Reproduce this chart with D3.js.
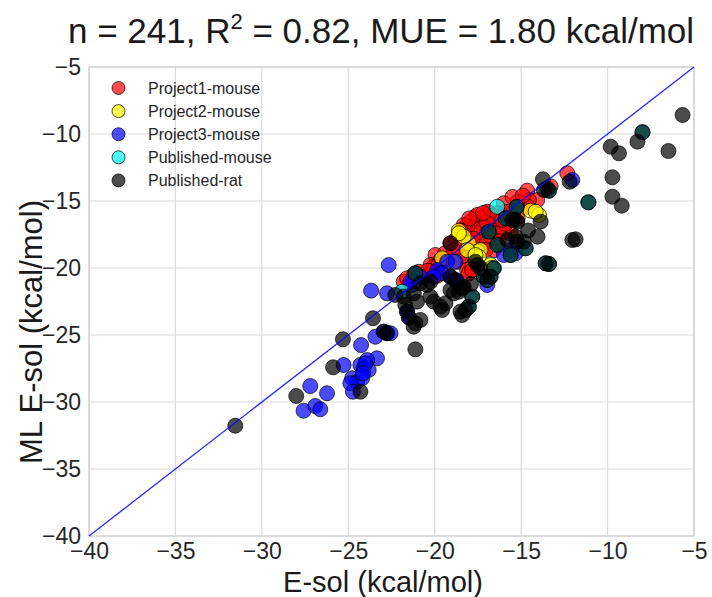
<!DOCTYPE html>
<html><head><meta charset="utf-8">
<script src="https://cdn.jsdelivr.net/npm/d3@7"></script>
<style>
html,body{margin:0;padding:0;background:#fff;}
svg{display:block;font-family:"Liberation Sans",Arial,sans-serif;}
</style></head>
<body>
<svg id="chart" width="712" height="597"></svg>
<script>
// ---- data (kcal/mol): [E-sol, ML E-sol] ----
const project1Mouse = [[-12.33,-12.93],[-14.65,-14.23],[-14.07,-14.93],[-14.55,-14.93],[-14.61,-15.43],[-15.22,-15.05],[-16.0,-15.17],[-15.61,-16.04],[-15.9,-15.8],[-16.87,-15.87],[-17.25,-16.29],[-17.35,-16.66],[-16.77,-16.42],[-16.58,-16.66],[-17.64,-16.17],[-17.93,-16.54],[-18.22,-16.96],[-16.48,-16.96],[-16.19,-17.22],[-17.16,-17.04],[-16.0,-17.29],[-15.61,-17.41],[-17.54,-17.41],[-17.35,-17.91],[-16.96,-18.04],[-16.58,-18.66],[-17.06,-18.66],[-18.8,-17.91],[-18.22,-17.66],[-19.96,-19.03],[-16.29,-17.41],[-19.67,-19.4],[-19.28,-19.28],[-20.25,-19.78],[-20.06,-19.9],[-18.61,-19.53],[-18.41,-19.16],[-17.74,-19.16],[-18.12,-20.15],[-18.03,-20.4],[-17.83,-20.15],[-20.92,-20.28],[-20.64,-20.65],[-21.22,-20.52],[-21.79,-21.02],[-21.6,-20.77],[-16.38,-15.92],[-16.96,-15.8],[-17.54,-16.04],[-17.74,-17.04],[-18.12,-16.92],[-18.32,-16.79],[-19.77,-19.78],[-19.57,-19.53],[-19.09,-18.16],[-13.3,-13.9],[-15.5,-14.7],[-14.9,-14.6],[-16.6,-16.1],[-17.0,-16.6],[-15.9,-16.7],[-18.6,-18.4],[-19.4,-18.9],[-17.9,-18.2],[-16.3,-18.0],[-18.9,-18.7],[-17.8,-17.8],[-19.9,-20.6],[-16.8,-17.6],[-15.2,-16.3],[-18.5,-17.2],[-20.4,-20.2],[-17.2,-15.9],[-18.0,-16.3],[-16.1,-16.4]];
const project2Mouse = [[-14.45,-15.72],[-13.97,-16.04],[-14.16,-15.8],[-18.61,-17.22],[-18.03,-18.16],[-18.32,-17.66],[-17.54,-18.78],[-17.35,-18.66],[-17.45,-19.16],[-18.12,-18.66],[-17.64,-19.03],[-19.57,-19.28],[-18.9,-19.53],[-16.77,-19.78],[-18.6,-17.41],[-16.7,-20.0]];
const project3Mouse = [[-12.04,-13.43],[-15.61,-18.66],[-15.32,-18.9],[-16.0,-19.03],[-19.28,-19.53],[-18.8,-19.53],[-19.86,-20.15],[-19.57,-20.4],[-20.06,-20.65],[-19.09,-20.65],[-18.8,-20.9],[-16.96,-21.27],[-20.83,-20.65],[-21.31,-21.27],[-21.41,-21.02],[-22.66,-19.78],[-22.76,-21.89],[-23.68,-21.69],[-21.6,-23.26],[-21.5,-23.68],[-22.95,-24.75],[-22.76,-24.87],[-22.56,-24.87],[-23.43,-25.13],[-24.26,-25.75],[-23.34,-26.74],[-23.91,-26.87],[-24.3,-27.24],[-24.11,-27.49],[-23.82,-27.61],[-25.27,-27.24],[-24.78,-28.23],[-24.49,-28.49],[-24.2,-28.23],[-24.88,-28.6],[-24.73,-29.23],[-27.2,-28.81],[-26.23,-29.35],[-27.59,-30.65],[-26.91,-30.3],[-26.62,-30.54],[-24.01,-27.11],[-24.15,-27.86],[-18.7,-21.0]];
const publishedMouse = [[-16.38,-15.43],[-21.89,-21.77],[-7.98,-9.87],[-11.11,-15.1],[-13.39,-14.23],[-15.26,-15.43],[-15.9,-16.29],[-16.87,-17.29],[-16.38,-18.28],[-14.74,-18.53],[-15.61,-19.03],[-13.58,-19.65],[-13.39,-19.7],[-16.58,-20.02],[-21.12,-20.4],[-17.16,-20.65],[-16.96,-20.9],[-16.77,-20.65],[-17.83,-22.14],[-18.03,-22.89]];
const publishedRat = [[-7.98,-9.87],[-11.11,-15.1],[-13.39,-14.23],[-15.26,-15.43],[-15.9,-16.29],[-16.87,-17.29],[-16.38,-18.28],[-14.74,-18.53],[-15.61,-19.03],[-13.58,-19.65],[-13.39,-19.7],[-16.58,-20.02],[-21.12,-20.4],[-17.16,-20.65],[-16.96,-20.9],[-16.77,-20.65],[-17.83,-22.14],[-18.03,-22.89],
[-5.66,-8.58],[-8.27,-10.57],[-9.82,-10.95],[-9.34,-11.44],[-6.48,-11.27],[-9.72,-13.23],[-9.72,-14.68],[-9.18,-15.35],[-12.19,-13.56],[-13.74,-13.38],[-13.68,-14.18],[-13.87,-16.54],[-14.05,-17.66],[-12.04,-17.91],[-11.85,-17.86],[-14.84,-18.04],[-15.32,-16.42],[-15.22,-16.54],[-15.51,-16.42],[-15.32,-17.66],[-15.22,-18.04],[-19.09,-18.16],[-17.64,-19.53],[-17.54,-19.78],[-17.35,-20.02],[-19.09,-20.65],[-18.8,-20.9],[-20.25,-21.02],[-20.44,-21.27],[-20.83,-21.14],[-18.32,-21.4],[-22.28,-22.01],[-21.79,-22.14],[-21.21,-21.89],[-21.02,-22.51],[-21.7,-22.76],[-20.25,-22.14],[-20.06,-22.51],[-19.67,-22.89],[-19.38,-22.63],[-19.57,-23.13],[-19.09,-21.64],[-18.61,-21.77],[-18.9,-21.89],[-18.41,-21.51],[-18.51,-23.26],[-18.41,-23.51],[-18.22,-23.13],[-21.6,-23.26],[-21.5,-23.68],[-21.12,-24.13],[-20.83,-23.88],[-21.22,-24.38],[-21.12,-26.07],[-22.95,-24.75],[-22.76,-24.87],[-23.57,-23.75],[-25.31,-25.32],[-25.88,-27.41],[-24.3,-29.23],[-28.01,-29.55],[-31.54,-31.77],[-13.49,-14.05],[-17.9,-21.2],[-15.8,-17.9],[-14.6,-17.2]];
const seriesNames = ["Project1-mouse","Project2-mouse","Project3-mouse","Published-mouse","Published-rat"];
const seriesColors = ["#ff0000","#ffff00","#0000ff","#00ffff","#000000"];
const tickValues = [-40,-35,-30,-25,-20,-15,-10,-5];
const axisDomain = [-40,-5];

const allSeries = [project1Mouse, project2Mouse, project3Mouse, publishedMouse, publishedRat];

const svg = d3.select("#chart");
const L = 89, R = 694, T = 67, B = 536;
const x = d3.scaleLinear().domain(axisDomain).range([L, R]);
const y = d3.scaleLinear().domain(axisDomain).range([B, T]);
const minus = v => v < 0 ? "\u2212" + Math.abs(v) : String(v);

// grid
const g = svg.append("g");
g.selectAll("line.vx").data(tickValues).enter().append("line")
  .attr("x1", d => x(d)).attr("x2", d => x(d)).attr("y1", T).attr("y2", B)
  .attr("stroke", "#dcdcdc").attr("stroke-width", 1.2);
g.selectAll("line.hy").data(tickValues).enter().append("line")
  .attr("y1", d => y(d)).attr("y2", d => y(d)).attr("x1", L).attr("x2", R)
  .attr("stroke", "#dcdcdc").attr("stroke-width", 1.2);
svg.append("rect").attr("x", L).attr("y", T).attr("width", R - L).attr("height", B - T)
  .attr("fill", "none").attr("stroke", "#cfcfcf").attr("stroke-width", 1.2);

// axes tick labels via d3 axes
const xAxis = d3.axisBottom(x).tickValues(tickValues).tickSize(0).tickPadding(7).tickFormat(minus);
const yAxis = d3.axisLeft(y).tickValues(tickValues).tickSize(0).tickPadding(8).tickFormat(minus);
const xa = svg.append("g").attr("transform", `translate(0,${B})`).call(xAxis);
const ya = svg.append("g").attr("transform", `translate(${L},0)`).call(yAxis);
[xa, ya].forEach(a => {
  a.select(".domain").remove();
  a.selectAll("text").attr("font-family", "Liberation Sans, Arial, sans-serif")
    .attr("font-size", 23).attr("fill", "#262626");
});

// points
allSeries.forEach((s, i) => {
  svg.append("g").selectAll("circle").data(s).enter().append("circle")
    .attr("cx", d => x(d[0])).attr("cy", d => y(d[1])).attr("r", 7.5)
    .attr("fill", seriesColors[i]).attr("fill-opacity", 0.7)
    .attr("stroke", "#000").attr("stroke-opacity", 0.7).attr("stroke-width", 1);
});

// identity line
svg.append("line").attr("x1", x(-40)).attr("y1", y(-40)).attr("x2", x(-5)).attr("y2", y(-5))
  .attr("stroke", "#0000ff").attr("stroke-width", 1.3).attr("stroke-opacity", 0.85);

// legend
const lg = svg.append("g");
seriesNames.forEach((n, i) => {
  const yy = 88 + i * 23.1;
  lg.append("circle").attr("cx", 118.5).attr("cy", yy).attr("r", 6.5)
    .attr("fill", seriesColors[i]).attr("fill-opacity", 0.7)
    .attr("stroke", "#000").attr("stroke-opacity", 0.7);
  lg.append("text").attr("x", 148).attr("y", yy + 5.5).attr("font-size", 16)
    .attr("fill", "#262626").text(n);
});

// title
const title = svg.append("text").attr("x", 381).attr("y", 43).attr("text-anchor", "middle")
  .attr("font-size", 35).attr("fill", "#1a1a1a");
title.append("tspan").text("n = 241, R");
title.append("tspan").attr("font-size", 22).attr("dy", -14).text("2");
title.append("tspan").attr("dy", 14).text(" = 0.82, MUE = 1.80 kcal/mol");

// axis labels
svg.append("text").attr("x", 383).attr("y", 592).attr("text-anchor", "middle")
  .attr("font-size", 29).attr("fill", "#1a1a1a").text("E-sol (kcal/mol)");
svg.append("text").attr("transform", `translate(42,332) rotate(-90)`)
  .attr("text-anchor", "middle").attr("font-size", 31).attr("fill", "#1a1a1a")
  .text("ML E-sol (kcal/mol)");
</script>
</body></html>
